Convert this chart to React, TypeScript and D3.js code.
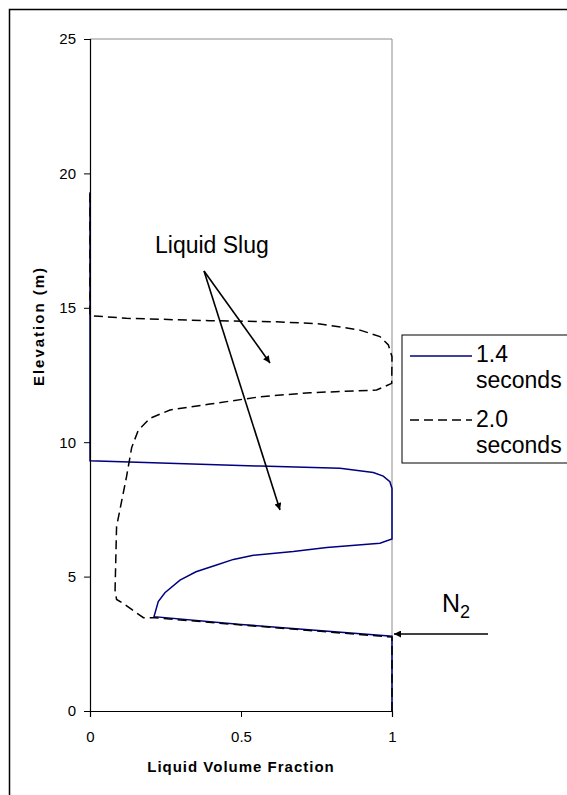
import React, { useEffect, useRef } from 'react';
import * as d3 from 'd3';

// tick values
const yTicks = [0, 5, 10, 15, 20, 25];
const xTicks = [0, 0.5, 1];
const xTickLabels = ['0', '0.5', '1'];

// 1.4 seconds profile (liquid fraction vs elevation)
const frac14 = [1, 1, 0.5, 0.212, 0.226, 0.248, 0.298, 0.351, 0.419, 0.475, 0.541, 0.673, 0.784, 0.96, 1, 1, 0.993, 0.971, 0.938, 0.828, 0.563, 0, 0];
const elev14 = [0, 2.78, 3.22, 3.51, 4.07, 4.4, 4.87, 5.18, 5.43, 5.64, 5.79, 5.93, 6.08, 6.24, 6.4, 8.28, 8.53, 8.74, 8.87, 9.03, 9.11, 9.31, 19.3];

// 2.0 seconds profile
const frac20 = [1, 1, 0.5, 0.212, 0.177, 0.11, 0.088, 0.083, 0.088, 0.099, 0.121, 0.138, 0.16, 0.199, 0.265, 0.397, 0.563, 0.728, 0.949, 0.999, 1, 0.988, 0.96, 0.894, 0.762, 0.618, 0.397, 0.121, 0, 0];
const elev20 = [0, 2.75, 3.2, 3.47, 3.47, 4.0, 4.15, 4.5, 6.86, 7.48, 8.72, 9.8, 10.45, 10.89, 11.2, 11.42, 11.69, 11.84, 11.94, 12.19, 13.18, 13.62, 13.93, 14.17, 14.4, 14.48, 14.52, 14.61, 14.71, 19.3];

const seriesNames = ['1.4', '2.0'];

const FONT = '"Liberation Sans", Arial, sans-serif';

const App = () => {
  const svgRef = useRef<SVGSVGElement>(null);

  useEffect(() => {
    const svg = d3.select(svgRef.current);
    svg.selectAll('*').remove();

    const left = 90, right = 392, top = 39, bottom = 711;

    const x = d3.scaleLinear().domain([0, 1]).range([left, right]);
    const y = d3.scaleLinear().domain([0, 25]).range([bottom, top]);

    const defs = svg.append('defs');
    defs.append('marker')
      .attr('id', 'arrow')
      .attr('viewBox', '0 0 10 10')
      .attr('refX', 10)
      .attr('refY', 5)
      .attr('markerWidth', 9)
      .attr('markerHeight', 7)
      .attr('markerUnits', 'userSpaceOnUse')
      .attr('orient', 'auto')
      .append('path')
      .attr('d', 'M0,0 L10,5 L0,10 Z')
      .attr('fill', '#000');

    // outer frame
    svg.append('rect')
      .attr('x', 9.5).attr('y', 9.5)
      .attr('width', 600).attr('height', 820)
      .attr('fill', 'none')
      .attr('stroke', '#000')
      .attr('stroke-width', 1.5);

    // plot area border (top/right grey)
    svg.append('path')
      .attr('d', `M${left},${top}H${right}V${bottom}`)
      .attr('fill', 'none')
      .attr('stroke', '#8c8c8c')
      .attr('stroke-width', 1);

    const line = d3.line<[number, number]>()
      .x(d => x(d[0]))
      .y(d => y(d[1]));

    const pts20 = frac20.map((f, i) => [f, elev20[i]] as [number, number]);
    const pts14 = frac14.map((f, i) => [f, elev14[i]] as [number, number]);

    svg.append('path')
      .attr('d', line(pts14))
      .attr('fill', 'none')
      .attr('stroke', '#000080')
      .attr('stroke-width', 1.5);

    svg.append('path')
      .attr('d', line(pts20))
      .attr('fill', 'none')
      .attr('stroke', '#000')
      .attr('stroke-width', 1.5)
      .attr('stroke-dasharray', '9,5');

    // axes
    const yAxis = svg.append('g')
      .attr('transform', `translate(${left},0)`)
      .call(d3.axisLeft(y).tickValues(yTicks).tickSize(6).tickPadding(8).tickFormat(d3.format('d')));
    const xAxis = svg.append('g')
      .attr('transform', `translate(0,${bottom})`)
      .call(d3.axisBottom(x).tickValues(xTicks).tickSize(6).tickPadding(14)
        .tickFormat((d, i) => xTickLabels[i]));
    [yAxis, xAxis].forEach(g => {
      g.select('.domain').attr('stroke', '#000').attr('stroke-width', 1.2);
      g.selectAll('.tick line').attr('stroke', '#000');
      g.selectAll('text')
        .attr('font-family', FONT)
        .attr('font-size', 15)
        .attr('fill', '#000');
    });

    // axis titles
    svg.append('text')
      .attr('x', (left + right) / 2 - 0)
      .attr('y', 772)
      .attr('text-anchor', 'middle')
      .attr('font-family', FONT)
      .attr('font-size', 15)
      .attr('font-weight', 'bold')
      .attr('letter-spacing', 1)
      .text('Liquid Volume Fraction');

    svg.append('text')
      .attr('transform', 'translate(44,326) rotate(-90)')
      .attr('text-anchor', 'middle')
      .attr('font-family', FONT)
      .attr('font-size', 15)
      .attr('font-weight', 'bold')
      .attr('letter-spacing', 2)
      .text('Elevation (m)');

    // annotations
    svg.append('text')
      .attr('x', 155)
      .attr('y', 253)
      .attr('font-family', FONT)
      .attr('font-size', 23)
      .text('Liquid Slug');

    svg.append('line')
      .attr('x1', 204).attr('y1', 271)
      .attr('x2', 270).attr('y2', 363)
      .attr('stroke', '#000').attr('stroke-width', 1.6)
      .attr('marker-end', 'url(#arrow)');
    svg.append('line')
      .attr('x1', 204).attr('y1', 271)
      .attr('x2', 280).attr('y2', 510)
      .attr('stroke', '#000').attr('stroke-width', 1.6)
      .attr('marker-end', 'url(#arrow)');

    const n2 = svg.append('text')
      .attr('x', 442)
      .attr('y', 612)
      .attr('font-family', FONT)
      .attr('font-size', 25)
      .text('N');
    n2.append('tspan')
      .attr('font-size', 18)
      .attr('dy', 6)
      .text('2');

    svg.append('line')
      .attr('x1', 488).attr('y1', 634)
      .attr('x2', 394).attr('y2', 634)
      .attr('stroke', '#000').attr('stroke-width', 1.6)
      .attr('marker-end', 'url(#arrow)');

    // legend
    const lg = svg.append('g');
    lg.append('rect')
      .attr('x', 402).attr('y', 335)
      .attr('width', 200).attr('height', 128)
      .attr('fill', '#fff')
      .attr('stroke', '#000')
      .attr('stroke-width', 1);
    const rows = [
      { name: seriesNames[0], stroke: '#000080', dash: null, ly: 356, ty: 362 },
      { name: seriesNames[1], stroke: '#000', dash: '9,5', ly: 420, ty: 427 },
    ];
    rows.forEach(r => {
      lg.append('line')
        .attr('x1', 410).attr('x2', 472)
        .attr('y1', r.ly).attr('y2', r.ly)
        .attr('stroke', r.stroke)
        .attr('stroke-width', 1.5)
        .attr('stroke-dasharray', r.dash);
      lg.append('text')
        .attr('x', 476).attr('y', r.ty)
        .attr('font-family', FONT)
        .attr('font-size', 23)
        .text(r.name);
      lg.append('text')
        .attr('x', 476).attr('y', r.ty + 26)
        .attr('font-family', FONT)
        .attr('font-size', 23)
        .text('seconds');
    });
  }, []);

  return (
    <svg
      ref={svgRef}
      width={567}
      height={795}
      style={{ position: 'absolute', left: 0, top: 0, background: '#fff' }}
    />
  );
};

export default App;
